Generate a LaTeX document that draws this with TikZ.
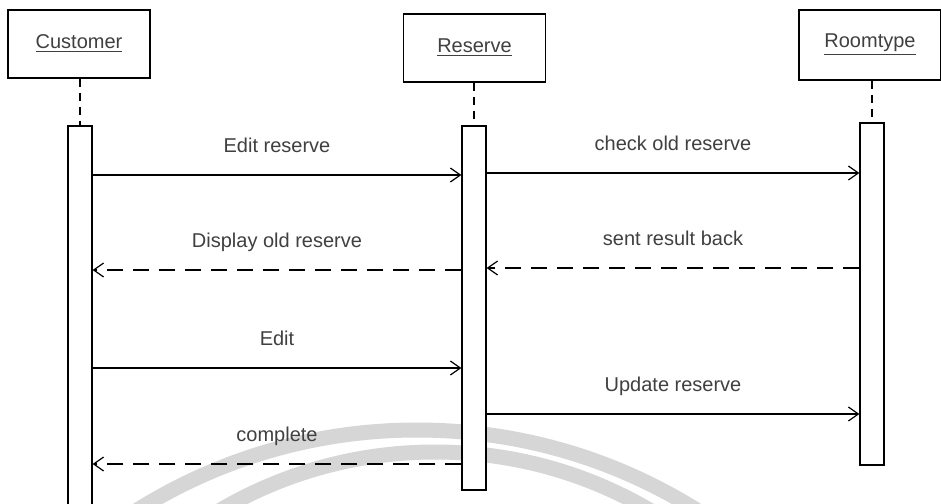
\documentclass[tikz,border=0pt]{standalone}
\usepackage{fontspec}
\setmainfont{Liberation Sans}
\usetikzlibrary{arrows.meta}

\tikzset{
    objbox/.style={draw, line width=0.6pt, minimum width=71pt, minimum height=34pt,
        inner sep=0pt, font=\fontsize{10}{12}\selectfont, text=black!75},
    actbar/.style={draw, line width=0.6pt, fill=white, minimum width=12pt, inner sep=0pt},
    lifeline/.style={line width=0.6pt, dash pattern=on 4pt off 3pt},
    callmsg/.style={line width=0.6pt, -{Straight Barb[length=5pt,width=7pt]}},
    replymsg/.style={callmsg, dash pattern=on 8pt off 5pt},
    msglabel/.style={midway, above=7.5pt, text depth=0pt, font=\fontsize{10}{12}\selectfont, text=black!75}
}

\begin{document}
\begin{tikzpicture}[x=0.5pt, y=-0.5pt]

    \clip (0,0) rectangle (941,503);
    \fill[white] (0,0) rectangle (941,503);

    % Watermark
    \draw[black!16, line width=7.5pt] (417,958) circle[radius=528];
    \draw[black!16, line width=7.5pt] (435,877) circle[radius=425];

    % Objects
    \node[objbox] (cust) at (79,44) {\underline{Customer}};
    \node[objbox] (resv) at (474.5,48) {\underline{Reserve}};
    \node[objbox, minimum height=35pt] (room) at (870,45) {\underline{Roomtype}};

    % Activation bars
    \node[actbar, minimum height=194.5pt] (custact) at (80,320.5) {};
    \node[actbar, minimum height=182pt] (resvact) at (474,308) {};
    \node[actbar, minimum height=171pt] (roomact) at (872,294) {};

    % Lifelines
    \draw[lifeline] (custact.north |- cust.south) -- (custact.north);
    \draw[lifeline] (resvact.north |- resv.south) -- (resvact.north);
    \draw[lifeline] (roomact.north |- room.south) -- (roomact.north);

    % Messages
    \draw[callmsg] (custact.east |- 0,175) -- node[msglabel] {Edit reserve} (resvact.west |- 0,175);
    \draw[callmsg] (resvact.east |- 0,173) -- node[msglabel] {check old reserve} (roomact.west |- 0,173);
    \draw[replymsg] (resvact.west |- 0,270) -- node[msglabel] {Display old reserve} (custact.east |- 0,270);
    \draw[replymsg] (roomact.west |- 0,268) -- node[msglabel] {sent result back} (resvact.east |- 0,268);
    \draw[callmsg] (custact.east |- 0,368) -- node[msglabel] {Edit} (resvact.west |- 0,368);
    \draw[callmsg] (resvact.east |- 0,414) -- node[msglabel] {Update reserve} (roomact.west |- 0,414);
    \draw[replymsg] (resvact.west |- 0,464) -- node[msglabel] {complete} (custact.east |- 0,464);

\end{tikzpicture}
\end{document}
